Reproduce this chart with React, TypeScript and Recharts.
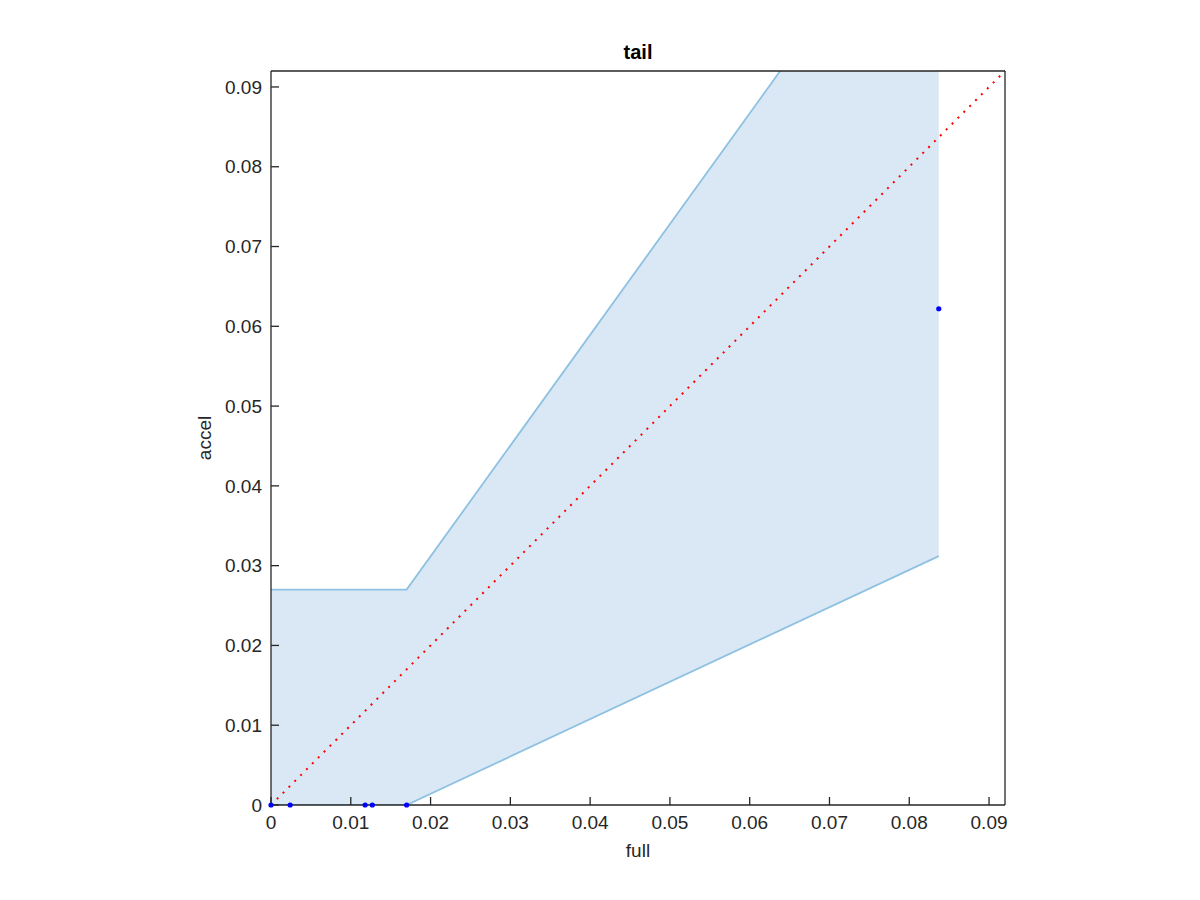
import React from 'react';
import { ComposedChart, XAxis, YAxis, Area, Line, Scatter, Label } from 'recharts';

// Shaded band (full vs accel)
const bandX = [0, 0.017, 0.0837];
const bandLower = [0, 0, 0.0312];
const bandUpper = [0.027, 0.027, 0.1196];

// Blue observed points
const pointX = [0, 0.0024, 0.0118, 0.0127, 0.017, 0.0837];
const pointY = [0, 0, 0, 0, 0, 0.0622];

// Red dotted identity line
const diagX = [0, 0.092];
const diagY = [0, 0.092];

const tickValues = [0, 0.01, 0.02, 0.03, 0.04, 0.05, 0.06, 0.07, 0.08, 0.09];
const axisDomain: [number, number] = [0, 0.092];

const FONT = '"Liberation Sans", Arial, Helvetica, sans-serif';
const AXIS_COLOR = '#262626';

const bandData = bandX.map((x, i) => ({ x, range: [bandLower[i], bandUpper[i]] }));
const pointData = pointX.map((x, i) => ({ x, y: pointY[i] }));
const diagData = diagX.map((x, i) => ({ x, y: diagY[i] }));

const tickStyle = { fill: AXIS_COLOR, fontSize: 19, fontFamily: FONT };
const lineStyle = { stroke: AXIS_COLOR, strokeWidth: 1.3 };

const dotShape = (props: any) => (
  <circle cx={props.cx} cy={props.cy} r={2.6} fill="#0000ff" stroke="none" />
);

export default function App() {
  return (
    <div style={{ position: 'absolute', left: 0, top: 0, width: 1200, height: 900, background: '#fff' }}>
      <ComposedChart
        width={1200}
        height={900}
        margin={{ top: 41, right: 165, bottom: 55, left: 211 }}
      >
        <Area
          xAxisId="b"
          yAxisId="l"
          data={bandData}
          dataKey="range"
          type="linear"
          fill="#d9e8f4"
          fillOpacity={1}
          stroke="#8ec1e2"
          strokeWidth={1.8}
          dot={false}
          activeDot={false}
          isAnimationActive={false}
        />
        <Scatter
          xAxisId="t"
          yAxisId="r"
          data={pointData}
          dataKey="y"
          shape={dotShape}
          isAnimationActive={false}
        />
        <Line
          xAxisId="t"
          yAxisId="r"
          data={diagData}
          dataKey="y"
          type="linear"
          stroke="#ff0000"
          strokeWidth={2}
          strokeDasharray="2 6.3"
          dot={false}
          activeDot={false}
          isAnimationActive={false}
        />
        <XAxis
          xAxisId="b"
          dataKey="x"
          type="number"
          orientation="bottom"
          domain={axisDomain}
          allowDataOverflow
          ticks={tickValues}
          height={40}
          tickSize={-8}
          tickMargin={19}
          tick={tickStyle}
          axisLine={lineStyle}
          tickLine={lineStyle}
        >
          <Label
            content={() => (
              <text x={638} y={857} textAnchor="middle" fontSize={19} fontFamily={FONT} fill={AXIS_COLOR}>
                full
              </text>
            )}
          />
        </XAxis>
        <XAxis
          xAxisId="t"
          dataKey="x"
          type="number"
          orientation="top"
          domain={axisDomain}
          ticks={tickValues}
          height={30}
          tickSize={-8}
          tick={false}
          axisLine={lineStyle}
          tickLine={lineStyle}
        >
          <Label
            content={() => (
              <text x={638} y={59} textAnchor="middle" fontSize={20} fontWeight="bold" fontFamily={FONT} fill="#000">
                tail
              </text>
            )}
          />
        </XAxis>
        <YAxis
          yAxisId="l"
          type="number"
          orientation="left"
          domain={axisDomain}
          allowDataOverflow
          ticks={tickValues}
          width={60}
          tickSize={-8}
          tickMargin={17}
          tick={tickStyle}
          axisLine={lineStyle}
          tickLine={lineStyle}
        >
          <Label
            content={() => (
              <text
                x={211}
                y={438}
                textAnchor="middle"
                fontSize={19}
                fontFamily={FONT}
                fill={AXIS_COLOR}
                transform="rotate(-90, 211, 438)"
              >
                accel
              </text>
            )}
          />
        </YAxis>
        <YAxis
          yAxisId="r"
          type="number"
          orientation="right"
          domain={axisDomain}
          ticks={tickValues}
          width={30}
          tickSize={-8}
          tick={false}
          axisLine={lineStyle}
          tickLine={lineStyle}
        />
      </ComposedChart>
    </div>
  );
}
